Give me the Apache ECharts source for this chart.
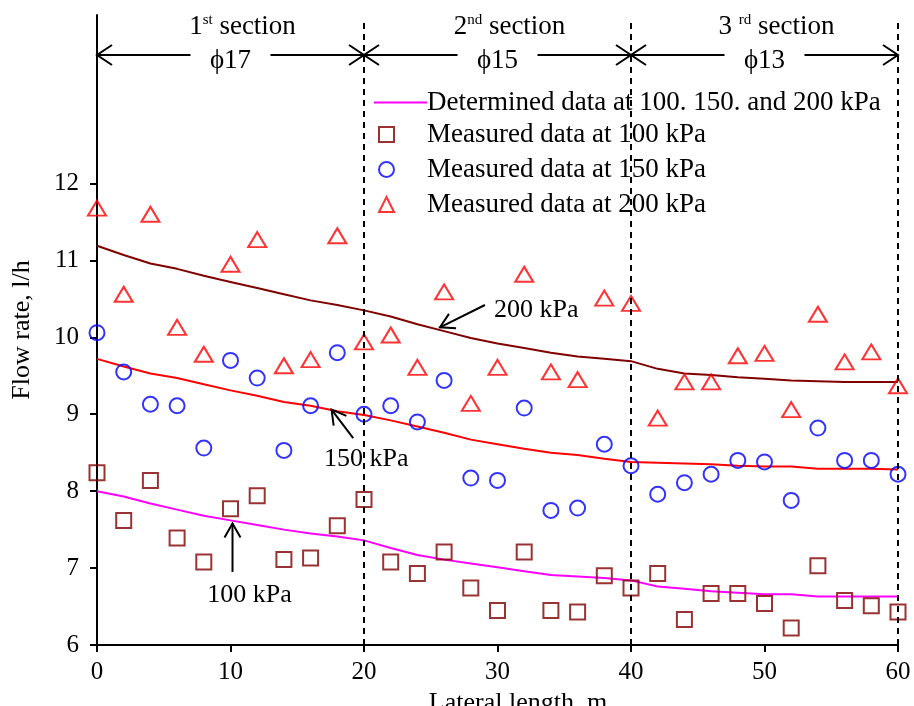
<!DOCTYPE html>
<html>
<head>
<meta charset="utf-8">
<script src="https://cdn.jsdelivr.net/npm/echarts@6/dist/echarts.min.js"></script>
<style>
  html, body { margin: 0; padding: 0; background: #ffffff; }
  #chart { width: 914px; height: 706px; }
</style>
</head>
<body>
<div id="chart"></div>
<script>
// Distance along the lateral (m) at each emitter reading
const lateralLength = [0, 2, 4, 6, 8, 10, 12, 14, 16, 18, 20, 22, 24, 26, 28, 30,
  32, 34, 36, 38, 40, 42, 44, 46, 48, 50, 52, 54, 56, 58, 60];

// Determined (computed) flow rate, l/h
const determined200 = [11.19, 11.07, 10.96, 10.89, 10.80, 10.72, 10.64, 10.56, 10.48, 10.42, 10.35,
  10.27, 10.17, 10.08, 9.99, 9.92, 9.86, 9.80, 9.75, 9.72, 9.69,
  9.59, 9.53, 9.51, 9.48, 9.46, 9.44, 9.43, 9.42, 9.42, 9.42];
const determined150 = [9.72, 9.62, 9.53, 9.47, 9.39, 9.31, 9.24, 9.16, 9.11, 9.04, 8.99,
  8.92, 8.84, 8.76, 8.67, 8.61, 8.55, 8.50, 8.47, 8.42, 8.38,
  8.37, 8.36, 8.35, 8.33, 8.32, 8.32, 8.29, 8.29, 8.29, 8.28];
const determined100 = [8.00, 7.93, 7.84, 7.76, 7.68, 7.62, 7.56, 7.50, 7.45, 7.41, 7.36,
  7.26, 7.17, 7.11, 7.06, 7.01, 6.96, 6.91, 6.89, 6.87, 6.84,
  6.76, 6.73, 6.70, 6.68, 6.66, 6.66, 6.63, 6.63, 6.63, 6.63];

// Measured flow rate, l/h
const measured100 = [8.24, 7.62, 8.14, 7.39, 7.08, 7.77, 7.94, 7.11, 7.13, 7.55, 7.89,
  7.08, 6.93, 7.21, 6.74, 6.45, 7.21, 6.45, 6.43, 6.90, 6.74,
  6.93, 6.33, 6.67, 6.67, 6.54, 6.22, 7.03, 6.58, 6.51, 6.43];
const measured150 = [10.06, 9.55, 9.13, 9.11, 8.56, 9.70, 9.47, 8.53, 9.11, 9.80, 9.00,
  9.11, 8.90, 9.44, 8.17, 8.14, 9.08, 7.75, 7.78, 8.61, 8.33,
  7.96, 8.11, 8.22, 8.40, 8.38, 7.88, 8.82, 8.40, 8.40, 8.22];
const measured200 = [11.68, 10.56, 11.60, 10.13, 9.78, 10.95, 11.27, 9.63, 9.71, 11.32, 9.94,
  10.03, 9.61, 10.59, 9.14, 9.61, 10.82, 9.55, 9.45, 10.51, 10.44,
  8.95, 9.42, 9.42, 9.76, 9.79, 9.06, 10.30, 9.68, 9.81, 9.37];

// Pipe sections along the lateral
const sectionBounds = [0, 20, 40, 60];
const sectionNumbers = ['1', '2', '3 '];
const sectionSuffixes = ['st', 'nd', 'rd'];
const sectionDiameters = ['\u03D517', '\u03D515', '\u03D513'];

// Axis ticks
const xTickValues = [0, 10, 20, 30, 40, 50, 60];
const yTickValues = [6, 7, 8, 9, 10, 11, 12];

// Series names
const legendDetermined = 'Determined data at 100. 150. and 200 kPa';
const legend100 = 'Measured data at 100 kPa';
const legend150 = 'Measured data at 150 kPa';
const legend200 = 'Measured data at 200 kPa';
const pressureLabels = ['200 kPa', '150 kPa', '100 kPa'];

// Where each pressure label and its pointer sit, in axis units
const pressureCallouts = [
  { tip: [25.69, 10.13], tail: [29.06, 10.42], text: [29.74, 10.35], align: 'left' },
  { tip: [17.57, 9.06], tail: [19.19, 8.69], text: [20.17, 8.42], align: 'center' },
  { tip: [10.15, 7.58], tail: [10.15, 6.95], text: [11.42, 6.65], align: 'center' }
];

const FONT = '"Liberation Serif", "Times New Roman", "DejaVu Serif", serif';
const Y_TOP = 14.19;
const SECTION_TITLE_Y = 14.03;
const SECTION_ARROW_Y = 13.67;
const SECTION_DIAM_Y = 13.59;
const DIVIDER_TOP = 14.10;

const pairs = (ys) => lateralLength.map((x, i) => [x, ys[i]]);

// Open "V" arrow head with its point at tip, pointing along (dx, dy)
function arrowHead(tip, dx, dy, len, half) {
  const n = Math.hypot(dx, dy);
  const ux = dx / n, uy = dy / n;
  const bx = tip[0] - ux * len, by = tip[1] - uy * len;
  const px = -uy * half, py = ux * half;
  return [[bx + px, by + py], [tip[0], tip[1]], [bx - px, by - py]];
}

const blackLine = { stroke: '#000', lineWidth: 2, fill: null };

function renderSection(params, api) {
  const i = params.dataIndex;
  const a = api.value(0), b = api.value(1);
  const pa = api.coord([a, SECTION_ARROW_Y]);
  const pb = api.coord([b, SECTION_ARROW_Y]);
  const mid = (pa[0] + pb[0]) / 2;
  const y = pa[1];
  const gap = 40;
  const diam = api.coord([(a + b) / 2, SECTION_DIAM_Y]);
  const title = api.coord([(a + b) / 2, SECTION_TITLE_Y]);
  return {
    type: 'group',
    children: [
      { type: 'line', shape: { x1: pa[0], y1: y, x2: mid - gap, y2: y }, style: blackLine },
      { type: 'line', shape: { x1: mid + gap, y1: y, x2: pb[0], y2: y }, style: blackLine },
      { type: 'polyline', shape: { points: arrowHead(pa, -1, 0, 15, 10) }, style: blackLine },
      { type: 'polyline', shape: { points: arrowHead(pb, 1, 0, 15, 10) }, style: blackLine },
      {
        type: 'text',
        style: {
          text: sectionDiameters[i], x: diam[0], y: diam[1],
          align: 'center', verticalAlign: 'middle',
          fill: '#000', fontSize: 27, fontFamily: FONT
        }
      },
      {
        type: 'text',
        style: {
          text: '{n|' + sectionNumbers[i] + '}{s|' + sectionSuffixes[i] + '}{n| section}',
          x: title[0] + 12, y: title[1],
          align: 'center', verticalAlign: 'middle',
          fill: '#000', fontFamily: FONT,
          rich: {
            n: { fontSize: 27, lineHeight: 30, fontFamily: FONT, fill: '#000' },
            s: { fontSize: 15, lineHeight: 8, verticalAlign: 'top', fontFamily: FONT, fill: '#000' }
          }
        }
      }
    ]
  };
}

function renderCallout(params, api) {
  const c = pressureCallouts[params.dataIndex];
  const tip = api.coord(c.tip);
  const tail = api.coord(c.tail);
  const t = api.coord(c.text);
  return {
    type: 'group',
    children: [
      { type: 'line', shape: { x1: tail[0], y1: tail[1], x2: tip[0], y2: tip[1] }, style: blackLine },
      { type: 'polyline', shape: { points: arrowHead(tip, tip[0] - tail[0], tip[1] - tail[1], 14, 8) }, style: blackLine },
      {
        type: 'text',
        style: {
          text: pressureLabels[params.dataIndex], x: t[0], y: t[1],
          align: c.align, verticalAlign: 'middle',
          fill: '#000', fontSize: 26, fontFamily: FONT
        }
      }
    ]
  };
}

const chart = echarts.init(document.getElementById('chart'), null, { renderer: 'canvas' });

const hollow = (color) => ({ color: 'rgba(0,0,0,0)', borderColor: color, borderWidth: 2 });

chart.setOption({
  animation: false,
  backgroundColor: '#ffffff',
  textStyle: { fontFamily: FONT, color: '#000' },
  grid: { left: 97, right: 16, top: 15, bottom: 61, containLabel: false, outerBoundsMode: 'none' },
  legend: [
    {
      data: [legendDetermined],
      orient: 'vertical', left: 373, top: 89, padding: 0,
      itemWidth: 53, itemHeight: 14, itemGap: 8,
      itemStyle: { color: 'rgba(0,0,0,0)', borderWidth: 0, opacity: 0 },
      lineStyle: { color: '#ff00ff', width: 2, opacity: 1 },
      textStyle: { fontSize: 27, fontFamily: FONT, color: '#000', padding: [0, 0, 0, -5] },
      selectedMode: false
    },
    {
      data: [legend100, legend150, legend200],
      orient: 'vertical', left: 378, top: 121, padding: 0,
      itemWidth: 15, itemHeight: 15, itemGap: 8,
      textStyle: { fontSize: 27, fontFamily: FONT, color: '#000', padding: [0, 0, 0, 28] },
      selectedMode: false
    }
  ],
  xAxis: {
    type: 'value', min: 0, max: 60, interval: 10,
    axisLine: { show: true, onZero: false, lineStyle: { color: '#000', width: 2 } },
    axisTick: { show: true, length: 7, lineStyle: { color: '#000', width: 2 }, customValues: xTickValues },
    axisLabel: { color: '#000', fontSize: 25, fontFamily: FONT, margin: 15, customValues: xTickValues },
    splitLine: { show: false },
    name: 'Lateral length, m', nameLocation: 'middle', nameGap: 36,
    nameTextStyle: { fontSize: 26, fontFamily: FONT, color: '#000', padding: [0, 0, 0, 41] }
  },
  yAxis: {
    type: 'value', min: 6, max: Y_TOP, interval: 1,
    axisLine: { show: true, onZero: false, lineStyle: { color: '#000', width: 2 } },
    axisTick: { show: true, length: 7, lineStyle: { color: '#000', width: 2 }, customValues: yTickValues },
    axisLabel: { color: '#000', fontSize: 25, fontFamily: FONT, margin: 18, customValues: yTickValues },
    splitLine: { show: false },
    name: 'Flow rate, l/h', nameLocation: 'middle', nameGap: 62,
    nameTextStyle: { fontSize: 26, fontFamily: FONT, color: '#000' }
  },
  series: [
    {
      name: 'Determined 200 kPa', type: 'line', data: pairs(determined200),
      symbol: 'none', lineStyle: { color: '#800000', width: 2 }, itemStyle: { color: '#800000' }, z: 3
    },
    {
      name: 'Determined 150 kPa', type: 'line', data: pairs(determined150),
      symbol: 'none', lineStyle: { color: '#ff0000', width: 2 }, itemStyle: { color: '#ff0000' }, z: 3
    },
    {
      name: legendDetermined, type: 'line', data: pairs(determined100),
      symbol: 'none', lineStyle: { color: '#ff00ff', width: 2 }, itemStyle: { color: '#ff00ff' }, z: 3,
      markLine: {
        silent: true, symbol: 'none', label: { show: false },
        lineStyle: { color: '#000', width: 2, type: [6, 5] },
        data: sectionBounds.slice(1).map((x) => [{ coord: [x, 6] }, { coord: [x, DIVIDER_TOP] }])
      }
    },
    {
      name: legend100, type: 'scatter', data: pairs(measured100), clip: false,
      symbol: 'rect', symbolSize: 15, itemStyle: hollow('#800000'), z: 4
    },
    {
      name: legend150, type: 'scatter', data: pairs(measured150), clip: false,
      symbol: 'circle', symbolSize: 15, itemStyle: hollow('#0000ff'), z: 4
    },
    {
      name: legend200, type: 'scatter', data: pairs(measured200), clip: false,
      symbol: 'triangle', symbolSize: [18, 15], itemStyle: hollow('#ff0000'), z: 4
    },
    {
      name: 'Sections', type: 'custom', clip: false, silent: true, z: 5,
      encode: { x: [0, 1] },
      data: sectionBounds.slice(0, -1).map((s, i) => [s, sectionBounds[i + 1]]),
      renderItem: renderSection
    },
    {
      name: 'Pressure labels', type: 'custom', clip: false, silent: true, z: 5,
      encode: { x: 0 },
      data: pressureCallouts.map((c) => [c.tip[0]]),
      renderItem: renderCallout
    }
  ]
});
</script>
</body>
</html>
